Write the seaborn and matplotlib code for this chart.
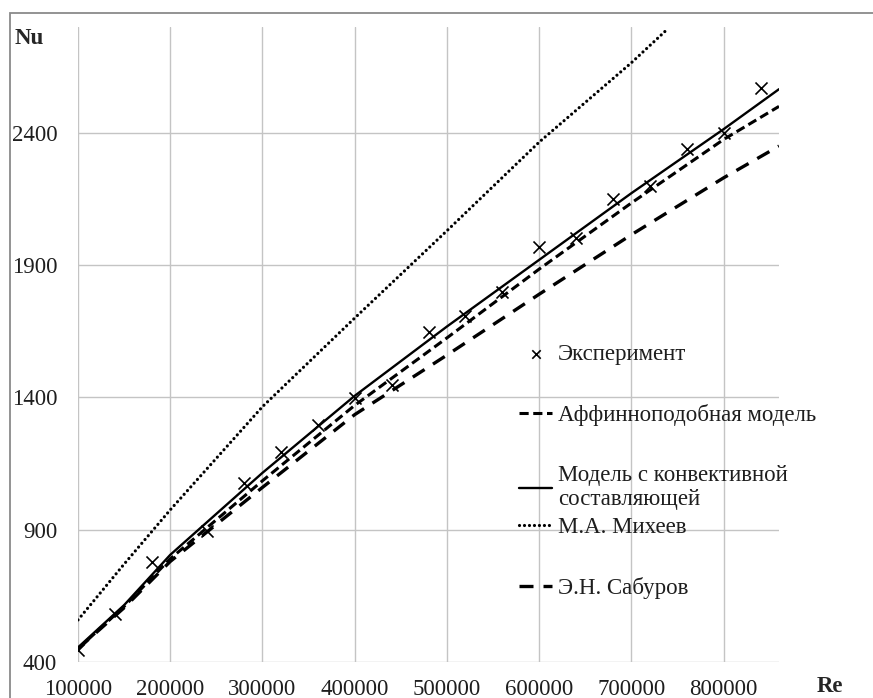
import matplotlib
matplotlib.use("Agg")
import matplotlib.pyplot as plt
from matplotlib.patches import Rectangle
import seaborn as sns
import pandas as pd

# experiment points
re_exp = [100000, 140000, 180000, 240000, 280000, 320000, 360000, 400000, 440000, 480000,
          520000, 560000, 600000, 640000, 680000, 720000, 760000, 800000, 840000]
nu_exp = [445, 581, 777, 896, 1078, 1195, 1296, 1397, 1447, 1649,
          1706, 1800, 1970, 2002, 2149, 2200, 2339, 2400, 2569]

# model curves
re_model = [100000, 150000, 200000, 300000, 400000, 500000, 600000, 700000, 800000, 860000]
nu_affine = [450, 610, 790, 1085, 1370, 1625, 1885, 2135, 2375, 2500]
nu_convective = [455, 615, 805, 1115, 1406, 1668, 1920, 2172, 2414, 2565]
nu_saburov = [450, 605, 780, 1060, 1335, 1560, 1790, 2015, 2230, 2350]

re_mikheev = [100000, 150000, 200000, 300000, 400000, 500000, 600000, 700000, 740000]
nu_mikheev = [559, 770, 975, 1365, 1700, 2030, 2365, 2665, 2795]

x_ticks = [100000, 200000, 300000, 400000, 500000, 600000, 700000, 800000]
y_ticks = [400, 900, 1400, 1900, 2400]

models = pd.DataFrame({'Re': re_model, 'affine': nu_affine,
                       'conv': nu_convective, 'saburov': nu_saburov})
exp = pd.DataFrame({'Re': re_exp, 'Nu': nu_exp})
mikheev = pd.DataFrame({'Re': re_mikheev, 'Nu': nu_mikheev})

sns.set_style("white")
plt.rcParams['font.family'] = ['Liberation Serif', 'DejaVu Serif']
grid_c = '#c4c4c4'

fig = plt.figure(figsize=(8.73, 6.98), dpi=100)
ax = fig.add_axes([78 / 873, 1 - 662 / 698, (779 - 78) / 873, (662 - 27) / 698])

sns.scatterplot(data=exp, x='Re', y='Nu', ax=ax, marker='x', color='black',
                s=75, linewidth=1.2, label='Эксперимент', zorder=5)
sns.lineplot(data=models, x='Re', y='affine', ax=ax, color='black', lw=2.2,
             linestyle=(0, (3.0, 1.5)), label='Аффинноподобная модель')
sns.lineplot(data=models, x='Re', y='conv', ax=ax, color='black', lw=1.7,
             label='Модель с конвективной\nсоставляющей')
sns.lineplot(data=mikheev, x='Re', y='Nu', ax=ax, color='black', lw=2.3,
             linestyle=(0, (0.01, 1.55)), dash_capstyle='round', label='М.А. Михеев')
sns.lineplot(data=models, x='Re', y='saburov', ax=ax, color='black', lw=2.4,
             linestyle=(0, (4.2, 3.0)), label='Э.Н. Сабуров')

ax.set_xlim(100000, 860000)
ax.set_ylim(400, 2800)
ax.set_xticks(x_ticks)
ax.set_yticks(y_ticks)
ax.set_xticklabels([str(v) for v in x_ticks])
ax.set_yticklabels([str(v) for v in y_ticks])
ax.grid(True, color=grid_c, lw=1.0)
ax.set_axisbelow(True)
for s in ax.spines.values():
    s.set_visible(False)
ax.tick_params(axis='both', length=6, width=1.0, color=grid_c, labelsize=16.5,
               labelcolor='#1e1e1e')
ax.tick_params(axis='y', pad=9)
ax.tick_params(axis='x', pad=6)
ax.set_xlabel('')
ax.set_ylabel('')

handles, labels = ax.get_legend_handles_labels()
ax.get_legend().remove()
leg_kw = dict(frameon=False, fontsize=16.5, handlelength=1.45, handletextpad=0.25,
              borderpad=0, borderaxespad=0, labelspacing=1.7,
              bbox_transform=fig.transFigure, loc='upper left')
leg1 = fig.legend(handles[:3], labels[:3], bbox_to_anchor=(519 / 873, 1 - 344 / 698),
                  markerscale=0.7, **leg_kw)
leg1.get_texts()[2].set_linespacing(1.2)
leg2 = fig.legend(handles[3:], labels[3:], bbox_to_anchor=(519 / 873, 1 - 517 / 698), **leg_kw)
for t in leg1.get_texts() + leg2.get_texts():
    t.set_color('#1e1e1e')

fig.text(15 / 873, 1 - 39 / 698, 'Nu', fontsize=16.5, fontweight='bold', va='center', ha='left')
fig.text(817 / 873, 1 - 687 / 698, 'Re', fontsize=16.5, fontweight='bold', va='center', ha='left')

fig.patches.append(Rectangle((9.5 / 873, -0.2), 1.2, 1.2 - 13 / 698,
                             transform=fig.transFigure, fill=False,
                             edgecolor='#8a8a8a', lw=1.3))

fig.savefig('out.png', dpi=100)
